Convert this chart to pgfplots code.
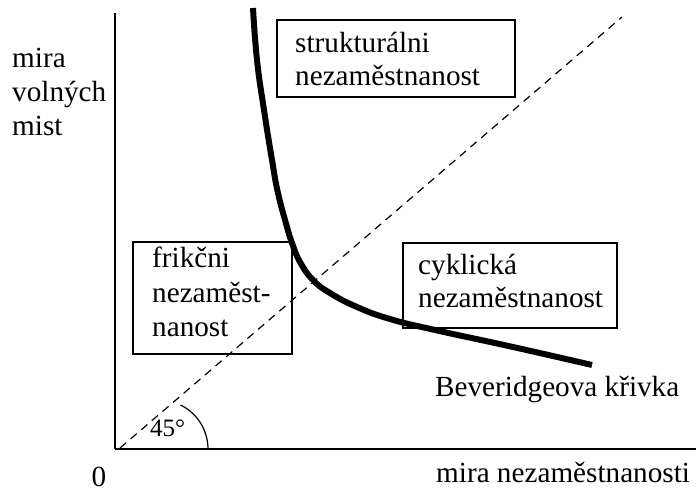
\documentclass[border=0pt]{standalone}
\usepackage{pgfplots}
\pgfplotsset{compat=1.18}
\usepackage{fontspec}
\setmainfont{Liberation Serif}
\tikzset{lab/.style={anchor=base west, inner sep=0pt, font=\fontsize{29.2}{34}\selectfont}}
\begin{document}
\begin{tikzpicture}
\useasboundingbox (0,0) rectangle (696pt,492pt);
\begin{axis}[
  at={(115pt,43pt)}, anchor=south west,
  scale only axis, width=581pt, height=436pt,
  xmin=0, xmax=581, ymin=0, ymax=436,
  axis lines=left, axis line style={-, line width=1.3pt},
  ticks=none, clip=false,
]
% 45 degree dashed line
\addplot[line width=1.2pt, dash pattern=on 8pt off 6pt] coordinates {(5,1) (507,432)};
% Beveridge curve
\addplot[line width=6pt, smooth, tension=0.8] coordinates {
 (138,441) (142,389) (149,339) (157,289) (163,256) (172,222) (177,206)
 (185,187) (198,169) (215,156) (242,142) (275,130) (320,119) (398,102) (477,84)};
% arc
\draw[line width=1.2pt] (axis cs:93,0) arc[start angle=0, end angle=64, radius=49pt];
% boxes
\draw[line width=1.3pt, fill=white] (axis cs:162,352) rectangle (axis cs:400,429);
\draw[line width=1.3pt] (axis cs:288,121) rectangle (axis cs:502,206);
\draw[line width=1.3pt] (axis cs:18,95) rectangle (axis cs:177,207);
% box texts
\node[lab] at (axis cs:180,396) {strukturálni};
\node[lab] at (axis cs:180,363) {nezaměstnanost};
\node[lab] at (axis cs:303,174) {cyklická};
\node[lab] at (axis cs:303,141) {nezaměstnanost};
\node[lab] at (axis cs:37,181) {frikčni};
\node[lab] at (axis cs:37,146) {nezaměst-};
\node[lab] at (axis cs:37,112) {nanost};
% labels
\node[lab] at (axis cs:-103,381) {mira};
\node[lab] at (axis cs:-103,347) {volných};
\node[lab] at (axis cs:-103,313) {mist};
\node[lab, anchor=base] at (axis cs:-16,-38) {0};
\node[lab] at (axis cs:321,-34) {mira nezaměstnanosti};
\node[lab] at (axis cs:320,52) {Beveridgeova křivka};
\node[lab, font=\fontsize{25}{28}\selectfont] at (axis cs:35,12) {45°};
\end{axis}
\end{tikzpicture}
\end{document}
